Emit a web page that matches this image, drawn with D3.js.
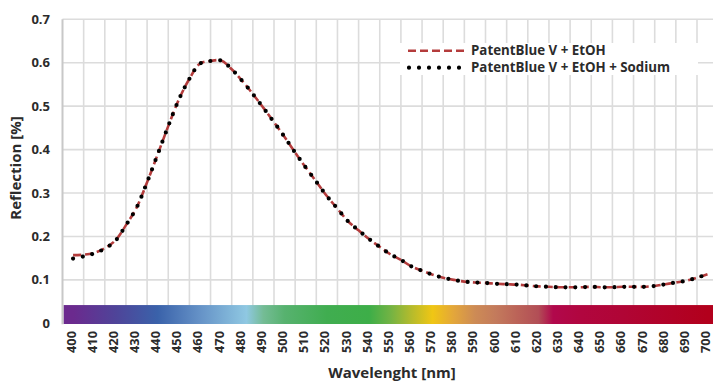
<!DOCTYPE html>
<html><head><meta charset="utf-8">
<script src="https://cdn.jsdelivr.net/npm/d3@7"></script>
<style>
html,body{margin:0;padding:0;background:#fff;}
svg{display:block;font-family:"Open Sans","Noto Sans",sans-serif;}
</style></head><body>
<svg id="chart" width="713" height="382"></svg>
<script>
// ---- data ----
const categories = d3.range(400, 701, 10); // tick labels 400..700
const wavelengths = d3.range(400, 701, 5);
const seriesNames = ["PatentBlue V + EtOH", "PatentBlue V + EtOH + Sodium"];
const etoh = [0.157,0.158,0.162,0.173,0.191,0.226,0.266,0.325,0.389,0.454,0.515,0.563,0.598,0.604,0.605,0.585,0.558,0.528,0.496,0.463,0.429,0.393,0.359,0.326,0.293,0.264,0.235,0.214,0.194,0.176,0.159,0.146,0.131,0.121,0.112,0.105,0.100,0.096,0.094,0.093,0.091,0.090,0.089,0.087,0.085,0.084,0.083,0.083,0.083,0.084,0.083,0.083,0.084,0.084,0.084,0.086,0.090,0.094,0.098,0.105,0.113];
const etohSodium = [0.149,0.154,0.161,0.172,0.190,0.226,0.266,0.325,0.389,0.454,0.515,0.563,0.598,0.604,0.605,0.585,0.558,0.528,0.496,0.463,0.429,0.393,0.359,0.326,0.293,0.264,0.235,0.214,0.194,0.176,0.159,0.146,0.131,0.121,0.112,0.105,0.100,0.096,0.094,0.093,0.091,0.090,0.089,0.087,0.085,0.084,0.083,0.083,0.083,0.084,0.083,0.083,0.084,0.084,0.084,0.086,0.090,0.094,0.098,0.105,0.113];
const yTicks = [0,0.1,0.2,0.3,0.4,0.5,0.6,0.7];
const yTickLabels = ["0","0.1","0.2","0.3","0.4","0.5","0.6","0.7"];
const spectrumStops = [
 [400,"#6b2a8e"],[420,"#4f4499"],[440,"#3a62aa"],[460,"#6592c7"],[482,"#8fc8e2"],
 [490,"#74bc95"],[500,"#57b26f"],[520,"#40ad50"],[540,"#3dae48"],[550,"#72b344"],
 [560,"#b5bb2c"],[570,"#f0c614"],[580,"#e3a63b"],[590,"#cd8b55"],[600,"#c37a5c"],
 [610,"#bb6358"],[620,"#b24e56"],[627,"#b1084c"],[640,"#b1063f"],[660,"#b00535"],[700,"#b2001c"]];

// ---- layout ----
const svg = d3.select("#chart");
const plotLeft = 62.5, bw = 21.15;
const plotTop = 19.3, plotBottom = 323.3;
const xBand = d3.scaleBand().domain(categories).range([plotLeft, plotLeft + bw*categories.length]).paddingInner(0).paddingOuter(0);
const xLin = d3.scaleLinear().domain([400,700]).range([xBand(400)+bw/2, xBand(700)+bw/2]);
const y = d3.scaleLinear().domain([0,0.7]).range([plotBottom, plotTop]);
const gridColor = "#dcdcdc";
const textColor = "#2b2b2b";

// gridlines
const g = svg.append("g");
g.selectAll("line.h").data(yTicks.slice(1)).join("line")
 .attr("x1", plotLeft).attr("x2", 713).attr("y1", d=>y(d)).attr("y2", d=>y(d))
 .attr("stroke", gridColor).attr("stroke-width", 1.6);
g.selectAll("line.v").data(categories.slice(1)).join("line")
 .attr("x1", d=>xBand(d)).attr("x2", d=>xBand(d)).attr("y1", y(0.7)).attr("y2", plotBottom)
 .attr("stroke", gridColor).attr("stroke-width", 1.6);

// spectrum bar
const defs = svg.append("defs");
const grad = defs.append("linearGradient").attr("id","spec")
 .attr("gradientUnits","userSpaceOnUse")
 .attr("x1", xLin(400)).attr("x2", xLin(700)).attr("y1",0).attr("y2",0);
grad.selectAll("stop").data(spectrumStops).join("stop")
 .attr("offset", d => (d[0]-400)/300)
 .attr("stop-color", d => d[1]);
svg.append("rect").attr("x", plotLeft+1).attr("y", y(0.042))
 .attr("width", xBand(700)+bw - plotLeft).attr("height", y(0) - y(0.042) + 0.7)
 .attr("fill","url(#spec)");

// y axis line
svg.append("line").attr("x1", plotLeft).attr("x2", plotLeft).attr("y1", y(0.7)).attr("y2", plotBottom+1)
 .attr("stroke","#c8c8c8").attr("stroke-width",2);

// y tick labels
svg.selectAll("text.yt").data(yTicks).join("text")
 .attr("x", 50).attr("y", d=>y(d)).attr("dy","0.35em")
 .attr("text-anchor","end").attr("font-size",13).attr("font-weight",700)
 .attr("fill", textColor).text((d,i)=>yTickLabels[i]);

// x tick labels
svg.selectAll("text.xt").data(categories).join("text")
 .attr("transform", d => `translate(${xBand(d)+bw/2-2},${331}) rotate(-90)`)
 .attr("text-anchor","end").attr("dy","0.35em")
 .attr("font-size",12.8).attr("font-weight",700).attr("fill", textColor)
 .text(d=>d);

// axis titles
svg.append("text").attr("transform","translate(16,168) rotate(-90)")
 .attr("text-anchor","middle").attr("dy","0.35em")
 .attr("font-size",15).attr("font-weight",700).attr("fill",textColor).text("Reflection [%]");
svg.append("text").attr("x", 392).attr("y", 378)
 .attr("text-anchor","middle").attr("font-size",15).attr("font-weight",700)
 .attr("fill",textColor).text("Wavelenght [nm]");

// lines
const line = d3.line().x((d,i)=>xLin(wavelengths[i])).y(d=>y(d)).curve(d3.curveCatmullRom.alpha(0.5));
const red = "#b43c3c";
svg.append("path").attr("d", line(etoh)).attr("fill","none")
 .attr("stroke", red).attr("stroke-width",2.6).attr("stroke-dasharray","8,4");
svg.append("path").attr("d", line(etohSodium)).attr("fill","none")
 .attr("stroke", "#000").attr("stroke-width",4.2).attr("stroke-linecap","round")
 .attr("stroke-dasharray","0,9.8");

// legend
const lg = svg.append("g");
lg.append("rect").attr("x",400).attr("y",43).attr("width",298).attr("height",32).attr("fill","#fff");
lg.append("line").attr("x1",408).attr("x2",466).attr("y1",50.7).attr("y2",50.7)
 .attr("stroke",red).attr("stroke-width",2.6).attr("stroke-dasharray","8,4");
lg.append("line").attr("x1",409).attr("x2",460).attr("y1",67.7).attr("y2",67.7)
 .attr("stroke","#000").attr("stroke-width",4.2).attr("stroke-linecap","round").attr("stroke-dasharray","0,10");
lg.selectAll("text").data(seriesNames).join("text")
 .attr("x",471).attr("y",(d,i)=>50.7+i*17).attr("dy","0.35em")
 .attr("font-size",13.3).attr("font-weight",700).attr("fill",textColor).text(d=>d);
</script>
</body></html>
